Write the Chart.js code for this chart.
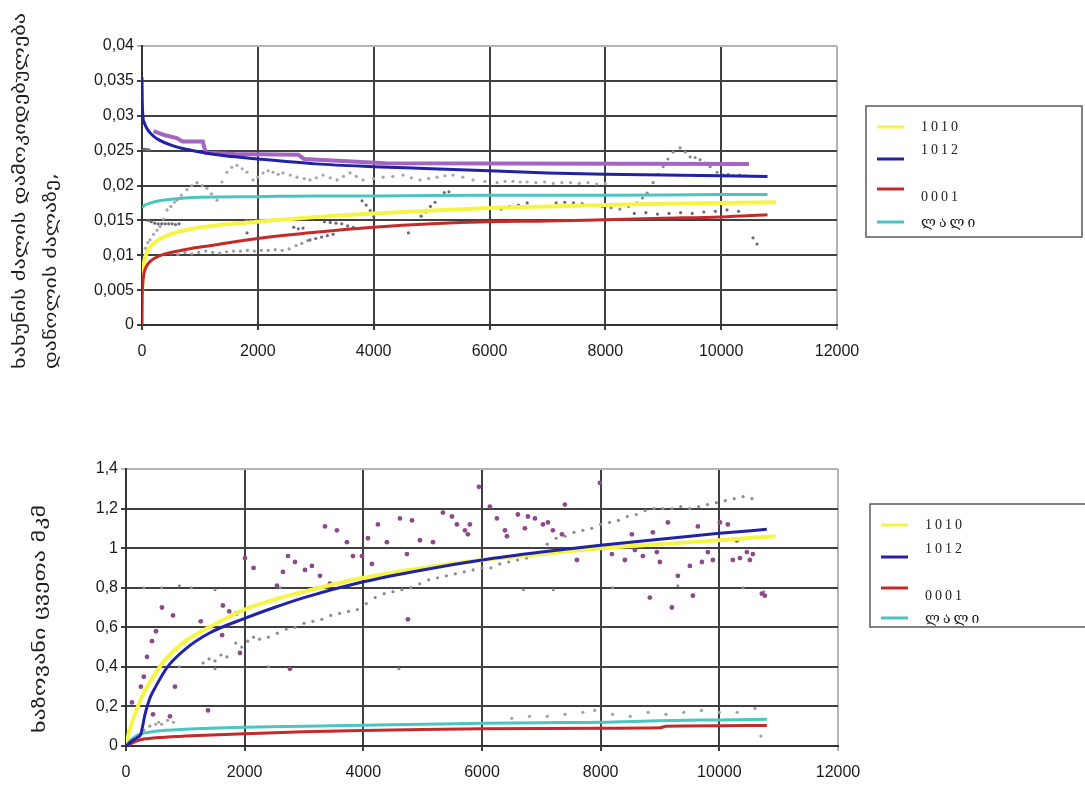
<!DOCTYPE html>
<html>
<head>
<meta charset="utf-8">
<script src="https://cdn.jsdelivr.net/npm/chart.js@4.4.1/dist/chart.umd.min.js"></script>
<style>
  body { margin: 0; background: #fff; }
  canvas { position: absolute; left: 0; }
  #friction { top: 0; }
  #wear { top: 400px; }
</style>
</head>
<body>
<canvas id="friction" width="1085" height="400"></canvas>
<canvas id="wear" width="1085" height="387"></canvas>
<script>
const seriesNames = ['1010', '1012', '0001', 'ლალი'];
const seriesColors = ['#f5f546', '#2222a6', '#c42a2a', '#4cc4c0'];

// friction coefficient vs. load, fitted curves [x, y]
const fr1010 = [[0, 0.0045], [15, 0.0075], [40, 0.0092], [80, 0.0103], [140, 0.0112], [250, 0.0120], [400, 0.0127], [650, 0.0134], [950, 0.0139], [1400, 0.0144], [2000, 0.0148], [3000, 0.0155], [4000, 0.0160], [5000, 0.0164], [6100, 0.0168], [7000, 0.0170], [8000, 0.0172], [9000, 0.0174], [10000, 0.0175], [10950, 0.0176]];
const fr1012 = [[0, 0.0355], [5, 0.0320], [15, 0.0300], [40, 0.0290], [90, 0.0281], [180, 0.0272], [300, 0.0265], [500, 0.0258], [700, 0.0253], [1000, 0.0248], [1400, 0.0243], [2000, 0.0238], [3000, 0.0231], [4000, 0.0227], [5000, 0.0224], [6000, 0.0221], [7000, 0.0218], [8000, 0.0216], [9000, 0.0215], [10000, 0.0214], [10800, 0.0213]];
const fr0001 = [[0, 0], [3, 0.0035], [10, 0.0055], [30, 0.0072], [70, 0.0083], [150, 0.0092], [300, 0.0099], [500, 0.0104], [800, 0.0109], [1200, 0.0114], [2000, 0.0124], [3000, 0.0133], [4000, 0.0140], [5000, 0.0145], [6000, 0.0148], [7000, 0.0149], [8000, 0.0151], [9000, 0.0153], [10000, 0.0155], [10800, 0.0158]];
const frRuby = [[0, 0.0168], [50, 0.0172], [150, 0.0175], [300, 0.0178], [600, 0.0181], [1000, 0.0183], [2000, 0.0184], [3000, 0.0185], [4000, 0.0185], [6000, 0.0186], [8000, 0.0186], [10000, 0.0187], [10800, 0.0187]];
const frStep = [[200, 0.0278], [400, 0.0272], [600, 0.0268], [700, 0.0263], [1050, 0.0263], [1100, 0.0247], [1600, 0.0245], [2700, 0.0244], [2800, 0.0238], [4200, 0.0232], [10480, 0.0231]];

// friction, measured points
const frGrey = [[60, 0.0110], [100, 0.0118], [138, 0.0122], [200, 0.0130], [260, 0.0136], [311, 0.0141], [370, 0.0152], [432, 0.0165], [500, 0.0170], [560, 0.0176], [604, 0.0179], [680, 0.0186], [777, 0.0194], [860, 0.0200], [950, 0.0204], [1040, 0.0200], [1122, 0.0196], [1200, 0.0188], [1295, 0.0179], [1380, 0.0205], [1468, 0.0219], [1550, 0.0226], [1641, 0.0229], [1730, 0.0224], [1813, 0.0219], [1917, 0.0208], [2000, 0.0212], [2090, 0.0218], [2180, 0.0221], [2262, 0.0219], [2350, 0.0216], [2435, 0.0218], [2560, 0.0215], [2677, 0.0212], [2800, 0.0210], [2901, 0.0208], [3010, 0.0211], [3126, 0.0215], [3250, 0.0211], [3368, 0.0208], [3480, 0.0213], [3592, 0.0218], [3700, 0.0213], [3817, 0.0208], [4000, 0.0210], [4162, 0.0212], [4330, 0.0213], [4507, 0.0215], [4650, 0.0211], [4801, 0.0208], [4950, 0.0210], [5095, 0.0212], [5230, 0.0214], [5371, 0.0215], [5540, 0.0212], [5716, 0.0208], [5920, 0.0206], [6131, 0.0204], [6270, 0.0206], [6406, 0.0206], [6530, 0.0205], [6649, 0.0205], [6800, 0.0204], [6950, 0.0205], [7100, 0.0203], [7250, 0.0204], [7400, 0.0204], [7550, 0.0203], [7700, 0.0204], [7850, 0.0202], [8000, 0.0203]];
const frGreyLate = [[7950, 0.0170], [8100, 0.0168], [8250, 0.0166], [8400, 0.0170], [8549, 0.0175], [8640, 0.0182], [8722, 0.0189], [8825, 0.0204], [8910, 0.0216], [8998, 0.0227], [9080, 0.0238], [9170, 0.0248], [9291, 0.0254], [9380, 0.0248], [9464, 0.0241], [9550, 0.0240], [9637, 0.0237], [9720, 0.0232], [9809, 0.0227], [9930, 0.0219], [10034, 0.0215], [10120, 0.0216], [10206, 0.0214], [10320, 0.0215], [10420, 0.0214]];
const frDark = [[30, 0.0252], [60, 0.0252], [90, 0.0251], [120, 0.0251], [110, 0.0150], [160, 0.0148], [220, 0.0146], [280, 0.0145], [340, 0.0145], [400, 0.0145], [460, 0.0145], [520, 0.0145], [580, 0.0144], [640, 0.0145], [1800, 0.0150], [1880, 0.0150], [1960, 0.0150], [2040, 0.0150], [2120, 0.0150], [2200, 0.0150], [2280, 0.0150], [1813, 0.0132], [2620, 0.0140], [2700, 0.0138], [2780, 0.0139], [2900, 0.0122], [3000, 0.0124], [3100, 0.0126], [3200, 0.0128], [3300, 0.0130], [3150, 0.0148], [3250, 0.0147], [3350, 0.0146], [3450, 0.0145], [3550, 0.0142], [3650, 0.0140], [3800, 0.0178], [3870, 0.0172], [3940, 0.0164], [4000, 0.0156], [4600, 0.0132], [4820, 0.0156], [4900, 0.0162], [4980, 0.0170], [5060, 0.0176], [5140, 0.0186], [5220, 0.0190], [5300, 0.0191], [6200, 0.0166], [6350, 0.0170], [6500, 0.0172], [6650, 0.0175], [7150, 0.0175], [7300, 0.0176], [7450, 0.0175], [7600, 0.0174], [8500, 0.0160], [8700, 0.0161], [8900, 0.0159], [9100, 0.0160], [9300, 0.0161], [9500, 0.0160], [9700, 0.0162], [9900, 0.0163], [10100, 0.0165], [10300, 0.0163], [10550, 0.0125], [10620, 0.0116]];
const frGreyLow = [[500, 0.0103], [620, 0.0101], [740, 0.0104], [860, 0.0102], [980, 0.0104], [1100, 0.0106], [1220, 0.0104], [1340, 0.0103], [1460, 0.0105], [1580, 0.0106], [1700, 0.0106], [1820, 0.0107], [1940, 0.0106], [2060, 0.0107], [2180, 0.0107], [2300, 0.0108], [2420, 0.0107], [2540, 0.0109], [2660, 0.0114], [2760, 0.0117], [2860, 0.0121]];

// linear wear, fitted curves [x, y]
const wr1010 = [[0, 0], [50, 0.07], [100, 0.12], [150, 0.16], [200, 0.20], [300, 0.27], [400, 0.32], [500, 0.37], [700, 0.45], [1000, 0.53], [1400, 0.60], [2000, 0.69], [2500, 0.74], [3000, 0.78], [4000, 0.85], [5000, 0.90], [6000, 0.94], [7000, 0.97], [8000, 1.00], [9000, 1.02], [10000, 1.04], [10950, 1.06]];
const wr1012 = [[0, 0], [100, 0.025], [200, 0.045], [250, 0.06], [280, 0.10], [320, 0.16], [400, 0.24], [500, 0.30], [700, 0.40], [1000, 0.49], [1400, 0.57], [2000, 0.645], [2500, 0.70], [3000, 0.75], [4000, 0.83], [5000, 0.89], [6000, 0.94], [7000, 0.98], [8000, 1.015], [9000, 1.045], [10000, 1.075], [10800, 1.095]];
const wr0001 = [[0, 0], [100, 0.015], [200, 0.028], [300, 0.035], [500, 0.042], [1000, 0.05], [2000, 0.062], [3000, 0.072], [4000, 0.078], [5000, 0.083], [6000, 0.087], [7000, 0.089], [8000, 0.09], [9000, 0.092], [9100, 0.10], [10000, 0.102], [10800, 0.104]];
const wrRuby = [[0, 0], [100, 0.035], [200, 0.055], [300, 0.065], [500, 0.075], [1000, 0.085], [2000, 0.095], [3000, 0.10], [4000, 0.105], [5000, 0.11], [6000, 0.115], [7000, 0.118], [8000, 0.12], [9000, 0.128], [10000, 0.132], [10800, 0.135]];

// linear wear, measured points
const wrDots = [[100, 0.22], [250, 0.30], [300, 0.35], [354, 0.45], [438, 0.53], [505, 0.58], [455, 0.16], [741, 0.15], [792, 0.66], [825, 0.30], [606, 0.70], [1260, 0.63], [1382, 0.18], [1620, 0.56], [1634, 0.71], [1740, 0.68], [1860, 0.67], [1921, 0.47], [2005, 0.95], [2150, 0.90], [2544, 0.81], [2645, 0.88], [2730, 0.96], [2848, 0.93], [2763, 0.39], [3016, 0.89], [3134, 0.91], [3269, 0.86], [3353, 1.11], [3437, 0.82], [3555, 1.09], [3724, 1.03], [3825, 0.96], [3977, 0.96], [4078, 1.05], [4145, 0.92], [4246, 1.12], [4397, 1.03], [4617, 1.15], [4735, 0.97], [4752, 0.64], [4819, 1.14], [4954, 1.04], [5173, 1.03], [5341, 1.18], [5493, 1.16], [5577, 1.12], [5712, 1.09], [5762, 1.07], [5796, 1.12], [5948, 1.31], [6133, 1.21], [6251, 1.15], [6386, 1.09], [6420, 1.06], [6605, 1.17], [6723, 1.10], [6774, 1.16], [6892, 1.15], [7027, 1.12], [7111, 1.13], [7195, 1.09], [7347, 1.07], [7397, 1.22], [7600, 0.94], [7987, 1.33], [8189, 0.97], [8408, 0.94], [8526, 1.07], [8577, 0.99], [8711, 0.96], [8829, 0.75], [8880, 1.08], [8947, 0.98], [8998, 0.93], [9133, 1.13], [9200, 0.70], [9301, 0.86], [9503, 0.91], [9554, 0.76], [9638, 1.11], [9706, 0.93], [9807, 0.98], [9891, 0.94], [10009, 1.13], [10144, 1.12], [10228, 0.94], [10295, 1.04], [10346, 0.95], [10464, 0.98], [10515, 0.94], [10565, 0.97], [10717, 0.77], [10767, 0.76]];
const wrGreyTrend = [[1300, 0.42], [1400, 0.44], [1500, 0.43], [1600, 0.46], [1700, 0.45], [1850, 0.52], [1950, 0.50], [2050, 0.53], [2150, 0.55], [2250, 0.54], [2400, 0.55], [2550, 0.57], [2700, 0.59], [2850, 0.60], [3000, 0.62], [3150, 0.63], [3300, 0.64], [3450, 0.66], [3600, 0.67], [3750, 0.68], [3900, 0.69], [4050, 0.72], [4200, 0.75], [4350, 0.77], [4500, 0.78], [4650, 0.79], [4800, 0.80], [4950, 0.82], [5100, 0.84], [5250, 0.85], [5400, 0.86], [5550, 0.87], [5700, 0.88], [5850, 0.89], [6000, 0.90], [6150, 0.90], [6300, 0.92], [6450, 0.93], [6600, 0.94], [6750, 0.95], [7100, 1.02], [7250, 1.05], [7400, 1.06], [7550, 1.08], [7700, 1.09], [7850, 1.10], [8000, 1.12], [8150, 1.13], [8300, 1.14], [8450, 1.16], [8600, 1.17], [8750, 1.19], [8900, 1.20], [9050, 1.20], [9200, 1.20], [9350, 1.21], [9500, 1.20], [9650, 1.21], [9800, 1.22], [9950, 1.23], [10100, 1.24], [10250, 1.25], [10400, 1.26], [10550, 1.25]];
const wrGreyFlat = [[300, 0.80], [600, 0.80], [900, 0.81], [1100, 0.80], [1500, 0.79], [2600, 0.80], [3200, 0.80], [6700, 0.79], [7200, 0.79], [8200, 0.80], [9300, 0.81], [10400, 0.80], [10750, 0.78], [900, 0.40], [1500, 0.39], [2400, 0.40], [4600, 0.39]];
const wrGreyLow = [[200, 0.05], [300, 0.08], [400, 0.10], [500, 0.11], [550, 0.12], [600, 0.11], [700, 0.13], [800, 0.12], [6500, 0.14], [6800, 0.15], [7100, 0.15], [7400, 0.16], [7700, 0.17], [7900, 0.18], [8200, 0.16], [8500, 0.15], [8800, 0.17], [9100, 0.16], [9400, 0.17], [9700, 0.18], [10000, 0.17], [10300, 0.17], [10600, 0.19], [10700, 0.05]];

const pts = pairs => pairs.map(([x, y]) => ({ x, y }));
const commaFmt = v => String(Number(v.toFixed(4))).replace('.', ',');

function curve(pairs, color, width, order) {
  return { data: pts(pairs), showLine: true, borderColor: color, borderWidth: width,
    pointRadius: 0, cubicInterpolationMode: 'monotone', order };
}
function steps(pairs, color, width, order) {
  return { data: pts(pairs), showLine: true, borderColor: color, borderWidth: width,
    pointRadius: 0, tension: 0, order };
}
function dots(pairs, color, radius, order) {
  return { data: pts(pairs), showLine: false, pointRadius: radius, pointBorderWidth: 0,
    pointBackgroundColor: color, order };
}

// side titles and boxed legend, drawn straight on the canvas
const decor = {
  id: 'decor',
  afterDraw(chart, _args, o) {
    const ctx = chart.ctx;
    ctx.save();
    for (const t of o.titles) {
      ctx.save();
      ctx.translate(t.x, t.y);
      ctx.rotate(-Math.PI / 2);
      ctx.font = '17px "DejaVu Sans"';
      ctx.fillStyle = '#1e1e1e';
      ctx.textAlign = 'left';
      ctx.textBaseline = 'middle';
      const w = ctx.measureText(t.text).width;
      ctx.scale(t.len / w, 1);
      ctx.fillText(t.text, 0, 0);
      ctx.restore();
    }
    const L = o.legend;
    ctx.fillStyle = '#fff';
    ctx.fillRect(L.x, L.y, L.w, L.h);
    ctx.strokeStyle = '#5a5a5a';
    ctx.lineWidth = 1.5;
    ctx.strokeRect(L.x, L.y, L.w, L.h);
    seriesNames.forEach((name, i) => {
      ctx.strokeStyle = seriesColors[i];
      ctx.lineWidth = 3;
      ctx.beginPath();
      ctx.moveTo(L.x + 11, L.lineY[i]);
      ctx.lineTo(L.x + 38, L.lineY[i]);
      ctx.stroke();
      ctx.fillStyle = '#222';
      ctx.font = '14px "Liberation Serif", "DejaVu Serif", serif';
      ctx.letterSpacing = '3px';
      ctx.textBaseline = 'middle';
      ctx.fillText(name, L.x + 55, L.textY[i]);
    });
    ctx.restore();
  }
};

function makeChart(id, cfg) {
  const edge = '#b4b4b4', grid = '#404040';
  return new Chart(document.getElementById(id), {
    type: 'scatter',
    data: { datasets: cfg.datasets },
    plugins: [decor],
    options: {
      responsive: false,
      animation: false,
      layout: { padding: { left: 0, top: cfg.top, right: cfg.right, bottom: 0 } },
      plugins: {
        legend: { display: false },
        tooltip: { enabled: false },
        decor: { titles: cfg.titles, legend: cfg.legend }
      },
      scales: {
        x: {
          min: 0, max: 12000,
          afterFit: s => { s.height = cfg.xHeight; },
          ticks: { stepSize: 2000, padding: 12, color: '#1a1a1a', font: { family: 'Liberation Sans', size: 16 },
            callback: v => String(v) },
          grid: { lineWidth: 2, tickLength: 5, color: c => (c.tick && c.tick.value === 12000 ? edge : grid) },
          border: { color: '#333', width: 2 }
        },
        y: {
          min: 0, max: cfg.yMax,
          afterFit: s => { s.width = cfg.yWidth; },
          ticks: { stepSize: cfg.yStep, padding: 3, color: '#1a1a1a', font: { family: 'Liberation Sans', size: 16 },
            callback: v => commaFmt(v) },
          grid: { lineWidth: 2, tickLength: 5, color: c => (c.tick && Math.abs(c.tick.value - cfg.yMax) < 1e-9 ? edge : grid) },
          border: { color: '#333', width: 2 }
        }
      }
    }
  });
}

makeChart('friction', {
  top: 46, right: 248, xHeight: 75, yWidth: 142, yMax: 0.04, yStep: 0.005,
  titles: [
    { text: 'ხახუნის ძალის დამოკიდებულება', x: 21, y: 369, len: 356 },
    { text: 'დაწოლის ძალაზე,', x: 52, y: 369, len: 196 }
  ],
  legend: { x: 866, y: 106, w: 216, h: 131, lineY: [127, 159, 189, 222], textY: [127, 150, 197, 223] },
  datasets: [
    curve(fr1012, seriesColors[1], 3, 0),
    curve(fr0001, seriesColors[2], 3, 1),
    curve(frRuby, seriesColors[3], 3, 2),
    curve(fr1010, seriesColors[0], 4, 3),
    steps(frStep, '#a464c4', 4, 4),
    dots(frGrey, '#a6a6a6', 1.6, 5),
    dots(frGreyLate, '#8c8c8c', 1.6, 6),
    dots(frDark, '#6a6a78', 1.6, 7),
    dots(frGreyLow, '#9a9a9a', 1.6, 8)
  ]
});

makeChart('wear', {
  top: 69, right: 247, xHeight: 41, yWidth: 126, yMax: 1.4, yStep: 0.2,
  titles: [
    { text: 'ხაზოვანი ცვეთა მკმ', x: 41, y: 333, len: 228 }
  ],
  legend: { x: 870, y: 104, w: 216, h: 123, lineY: [125, 157, 188, 218], textY: [125, 149, 196, 219] },
  datasets: [
    curve(wr1012, seriesColors[1], 3, 0),
    curve(wr0001, seriesColors[2], 3, 1),
    curve(wrRuby, seriesColors[3], 3, 2),
    curve(wr1010, seriesColors[0], 4, 3),
    dots(wrDots, '#8b4a8b', 2.4, 4),
    dots(wrGreyTrend, '#8c8c8c', 1.6, 5),
    dots(wrGreyFlat, '#8c8c8c', 1.5, 6),
    dots(wrGreyLow, '#a0a0a0', 1.6, 7)
  ]
});
</script>
</body>
</html>
